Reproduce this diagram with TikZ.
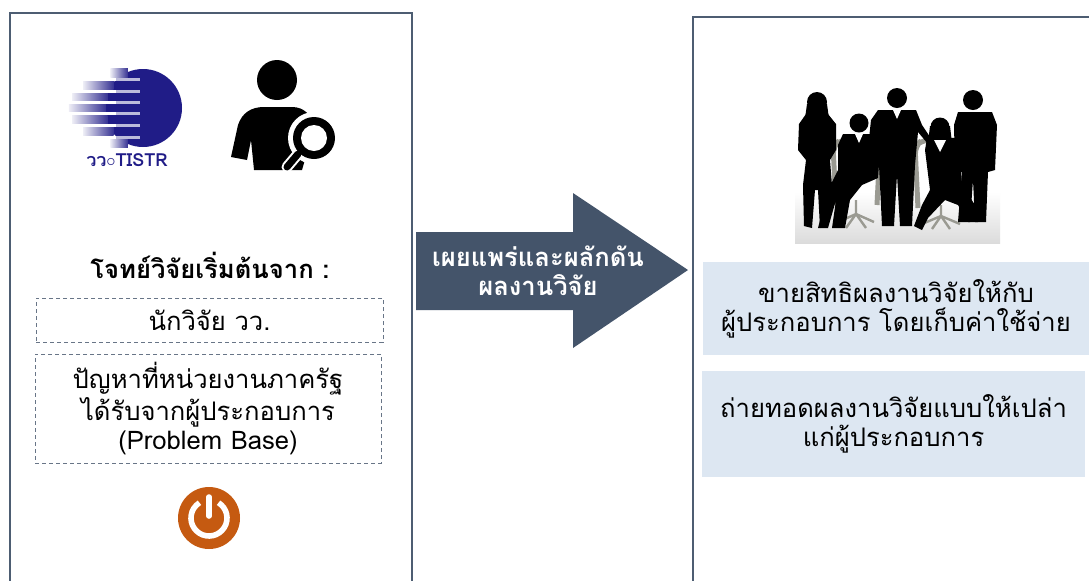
\documentclass[tikz,border=0pt]{standalone}
\usepackage{fontspec}
\newfontfamily\thaifont[Script=Thai]{Loma}
\usepackage{xcolor}
\definecolor{slate}{HTML}{4D5D72}
\definecolor{ink}{HTML}{44546A}
\definecolor{navy}{HTML}{201C87}
\definecolor{rust}{HTML}{C55A11}
\definecolor{pale}{HTML}{DDE7F2}
\definecolor{ash}{HTML}{9A9A92}

\begin{document}
\begin{tikzpicture}[x=0.5pt, y=-0.5pt, font={\thaifont\fontsize{12.8pt}{14.5pt}\selectfont},
    frame/.style={draw=slate, line width=1pt},
    dotbox/.style={draw=slate!85, dash pattern=on 2pt off 1.5pt, line width=0.5pt,
                   align=center, inner sep=0pt},
    cell/.style={fill=pale, align=center, inner sep=0pt}]
    \fill[white] (0,0) rectangle (1089,580);
    \clip (0,0) rectangle (1089,580);
    \draw[frame] (10,13) rectangle (412,620);
    \draw[frame] (693,17) rectangle (1120,620);

    \fill[navy] (143,108) circle[radius=39];
    \foreach \y in {73,85,96.5,108,119.5,131,143} {
      \pgfmathsetmacro{\w}{sqrt(max(1521-(\y-108)^2,0))}
      \shade[left color=navy!8, right color=navy!90] (143-1.9*\w,\y-4.5) rectangle (143-\w+2,\y+4.5);
    }
    \foreach \y in {79,91,102,113,125,137} {
      \fill[white] (66,\y-1.5) rectangle (116,\y+1.5);
      \fill[navy!30] (116,\y-1.5) rectangle (140,\y+1.5);
    }
    \node[navy, font={\thaifont\bfseries\fontsize{9pt}{9pt}\selectfont}] (tistr) at (127,160) {วว$\circ$TISTR};

    \fill (277,80) circle[radius=20];
    \fill (231,157) -- (238,125) .. controls (242,113) and (251,107) .. (264,107) -- (292,107)
      .. controls (304,107) and (312,115) .. (314,128) -- (302,170) -- (254,170) -- (251,140)
      -- (247,160) -- cycle;
    \fill[white] (314,138) circle[radius=26];
    \draw[white, line width=5.5pt, line cap=round] (298,154) -- (287,167);
    \draw[line width=3.5pt, line cap=round] (298,154) -- (287,167);
    \fill (314,138) circle[radius=21];
    \fill[white] (314,138) circle[radius=13];

    \node (start) at (210,265) {\bfseries โจทย์วิจัยเริ่มต้นจาก :};
    \node[dotbox, minimum width=173.5pt, minimum height=22pt] (researcher) at (209.5,320) {นักวิจัย วว.};
    \node[dotbox, minimum width=173pt, minimum height=54.5pt] (problem) at (208,408.5)
      {ปัญหาที่หน่วยงานภาครัฐ\\ได้รับจากผู้ประกอบการ\\(Problem Base)};
    \node[circle, fill=rust, minimum size=31pt, inner sep=0pt] (power) at (209,518) {};
    \draw[white, line width=2.8pt] ([shift={(-58:18)}]power.center) arc[start angle=-58, end angle=238, radius=18];
    \draw[white, line width=2.8pt, line cap=round] (209,497) -- (209,516);

    \fill[ink] (416,232) -- (573,232) -- (573,193) -- (688,270) -- (573,348) -- (573,310)
      -- (416,310) -- cycle;
    \node[white, align=center] (spread) at (538,271) {\bfseries เผยแพร่และผลักดัน\\\bfseries ผลงานวิจัย};

    \shade[top color=white, bottom color=black!14] (795,192) rectangle (1000,243);
    \draw[ash, line width=2.5pt, rounded corners=4pt] (836,205) -- (833,146) -- (840,140) -- (874,140)
      -- (880,146) -- (877,205);
    \draw[ash, line width=1.2pt] (856,200) -- (856,214) (838,222) -- (856,214) -- (874,222)
      (846,228) -- (856,214) -- (866,228);
    \draw[ash, line width=2.5pt, rounded corners=4pt] (918,208) -- (915,146) -- (922,140) -- (962,140)
      -- (968,146) -- (966,208);
    \draw[ash, line width=1.2pt] (941,205) -- (941,216) (922,224) -- (941,216) -- (960,224)
      (932,229) -- (941,216) -- (950,229);
    \fill (817,102) circle[radius=10];
    \fill (807,104) -- (827,104) -- (830,126) -- (804,126) -- cycle;
    \fill (806,114) -- (828,114) -- (836,124) -- (836,150) -- (830,160) -- (832,185) -- (828,225)
      -- (820,228) -- (818,190) -- (815,190) -- (812,228) -- (804,226) -- (803,185) -- (806,160)
      -- (798,150) -- (799,124) -- cycle;
    \fill (859,123) circle[radius=9.5];
    \fill (843,134) -- (875,134) -- (880,150) -- (878,178) -- (862,185) -- (850,200) -- (845,228)
      -- (832,228) -- (836,200) -- (828,228) -- (818,228) -- (828,190) -- (838,170) -- (838,145) -- cycle;
    \fill[white] (855,134) -- (863,134) -- (859,143) -- cycle;
    \fill (897,98) circle[radius=10];
    \fill (878,110) -- (916,110) -- (922,125) -- (932,140) -- (928,144) -- (918,132) -- (915,165)
      -- (912,226) -- (900,226) -- (897,175) -- (894,226) -- (882,226) -- (879,165) -- (876,140)
      -- (872,160) -- (867,158) -- (871,120) -- cycle;
    \fill[white] (893,110) -- (901,110) -- (897,119) -- cycle;
    \fill (940,127) circle[radius=9.5];
    \fill (930,126) -- (950,126) -- (952,143) -- (928,143) -- cycle;
    \fill (927,138) -- (955,138) -- (960,150) -- (962,185) -- (975,205) -- (978,222) -- (968,222)
      -- (958,205) -- (945,200) -- (928,218) -- (922,230) -- (914,226) -- (922,205) -- (930,190)
      -- (925,150) -- cycle;
    \fill[white] (934,140) -- (946,140) -- (940,152) -- cycle;
    \fill (973,100) circle[radius=10];
    \fill (958,112) -- (992,112) -- (997,125) -- (995,170) -- (988,172) -- (986,222) -- (975,222)
      -- (973,180) -- (970,222) -- (958,222) -- (962,172) -- (955,170) -- (954,125) -- cycle;

    \node[cell, minimum width=193pt, minimum height=46.5pt] (sell) at (896,308.5)
      {ขายสิทธิผลงานวิจัยให้กับ\\ผู้ประกอบการ โดยเก็บค่าใช้จ่าย};
    \node[cell, minimum width=191.5pt, minimum height=53pt] (transfer) at (893.5,424)
      {ถ่ายทอดผลงานวิจัยแบบให้เปล่า\\แก่ผู้ประกอบการ};
  \end{tikzpicture}
\end{document}
